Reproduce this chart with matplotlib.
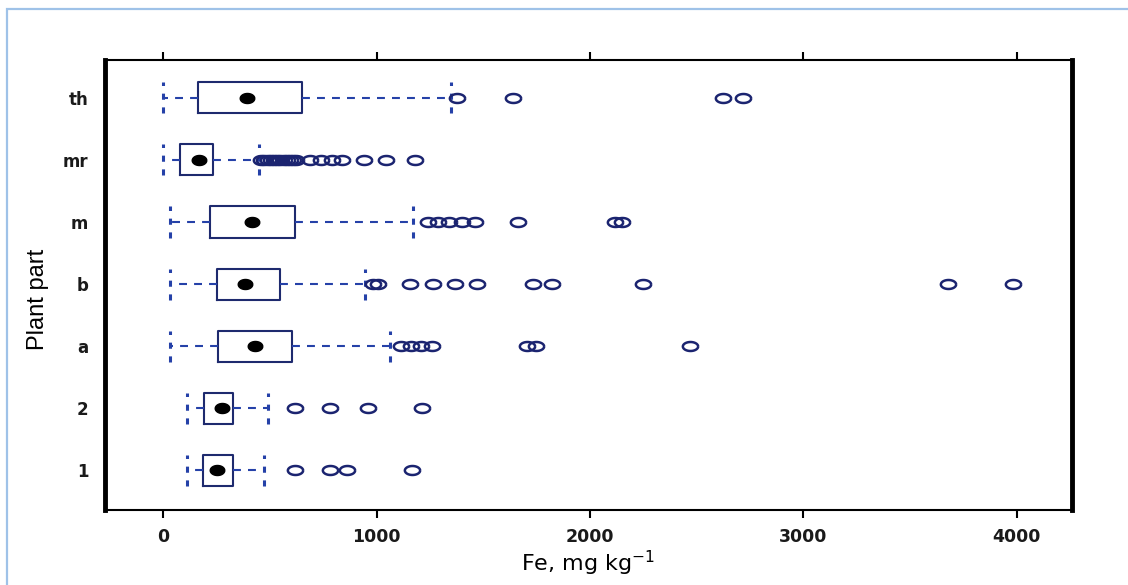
import numpy as np
import matplotlib
matplotlib.use("Agg")
import matplotlib.pyplot as plt
from matplotlib.patches import Rectangle

plt.rcParams['font.family'] = ['DejaVu Sans']

# Plant parts, bottom to top
parts = ['1', '2', 'a', 'b', 'm', 'mr', 'th']

# Five-number summaries of Fe concentration (mg/kg)
whis_lo = [112, 112, 33, 33, 33, 0, 0]
q1 = [188, 192, 258, 253, 220, 80, 164]
medians = [253, 276, 431, 384, 417, 169, 393]
q3 = [328, 328, 604, 548, 618, 234, 651]
whis_hi = [473, 492, 1063, 946, 1171, 450, 1349]

# Outlying observations per plant part
out_1 = [618, 782, 862, 1166]
out_2 = [618, 782, 960, 1213]
out_a = [1115, 1160, 1210, 1260, 1705, 1745, 2468]
out_b = [985, 1005, 1157, 1265, 1368, 1471, 1733, 1822, 2248, 3677, 3981]
out_m = [1240, 1290, 1340, 1400, 1460, 1663, 2115, 2150]
out_mr = [460, 475, 490, 505, 520, 535, 550, 565, 580, 595, 610, 625,
          690, 740, 790, 840, 940, 1045, 1180]
out_th = [1377, 1639, 2623, 2717]
outliers = [out_1, out_2, out_a, out_b, out_m, out_mr, out_th]

x_ticks = [0, 1000, 2000, 3000, 4000]

box_col = '#1e2a6e'
whisk_col = '#2541a8'
pt_col = '#1b2470'
tick_txt = '#1a1a1a'

fig = plt.figure(figsize=(11.28, 5.85), dpi=100)

# light blue frame around the figure
fig.patches.append(Rectangle((7 / 1128, -0.05), 1.2, 1 - 9 / 585 + 0.05,
                             transform=fig.transFigure, fill=False,
                             edgecolor='#9fc2e8', linewidth=1.6))

ax = fig.add_axes([105 / 1128, 1 - 510 / 585, (1072 - 105) / 1128, (510 - 60) / 585])

stats = []
for i, name in enumerate(parts):
    stats.append(dict(label=name, whislo=whis_lo[i], q1=q1[i], med=medians[i],
                      q3=q3[i], whishi=whis_hi[i], fliers=[]))

pos = np.arange(1, len(parts) + 1)
ax.bxp(stats, positions=pos, vert=False, widths=0.5, capwidths=0.5,
       showfliers=False,
       boxprops=dict(color=box_col, linewidth=1.5),
       whiskerprops=dict(color=whisk_col, linewidth=1.5, linestyle=(0, (3.8, 3.4))),
       capprops=dict(color=whisk_col, linewidth=2.2, linestyle=(0, (2, 2.5))),
       medianprops=dict(linewidth=0))

# wide ellipse shapes for the point symbols
t = np.linspace(0, 2 * np.pi, 48)
ring = np.column_stack([1.7 * np.cos(t), np.sin(t)])
blob = np.column_stack([1.45 * np.cos(t), np.sin(t)])

for p, vals in zip(pos, outliers):
    ax.plot(vals, [p] * len(vals), linestyle='none', marker=ring, markersize=11,
            markerfacecolor='none', markeredgecolor=pt_col, markeredgewidth=1.8,
            zorder=3)

# medians as filled black dots
ax.plot(medians, pos, linestyle='none', marker=blob, markersize=10.5,
        color='black', zorder=4)

ax.set_xlim(-272, 4258)
ax.set_ylim(0.36, 7.61)
ax.set_yticks(pos)
ax.set_yticklabels(parts, fontsize=12, fontweight='bold', color=tick_txt)
ax.set_xticks(x_ticks)
ax.set_xticklabels([str(v) for v in x_ticks], fontsize=12.5, fontweight='bold',
                   color=tick_txt)

ax.tick_params(axis='y', length=0, pad=12)
ax.tick_params(axis='x', direction='out', length=6, width=1.5, pad=7,
               top=True, labeltop=False, bottom=True)

for side in ('left', 'right'):
    ax.spines[side].set_linewidth(3.5)
for side in ('top', 'bottom'):
    ax.spines[side].set_linewidth(1.5)

ax.set_xlabel('Fe, mg kg$^{-1}$', fontsize=16, labelpad=2)
fig.text(38 / 1128, 1 - 299 / 585, 'Plant part', rotation=90, fontsize=17,
         family=['Liberation Sans', 'DejaVu Sans'], ha='center', va='center')

fig.savefig('out.png', dpi=100)
